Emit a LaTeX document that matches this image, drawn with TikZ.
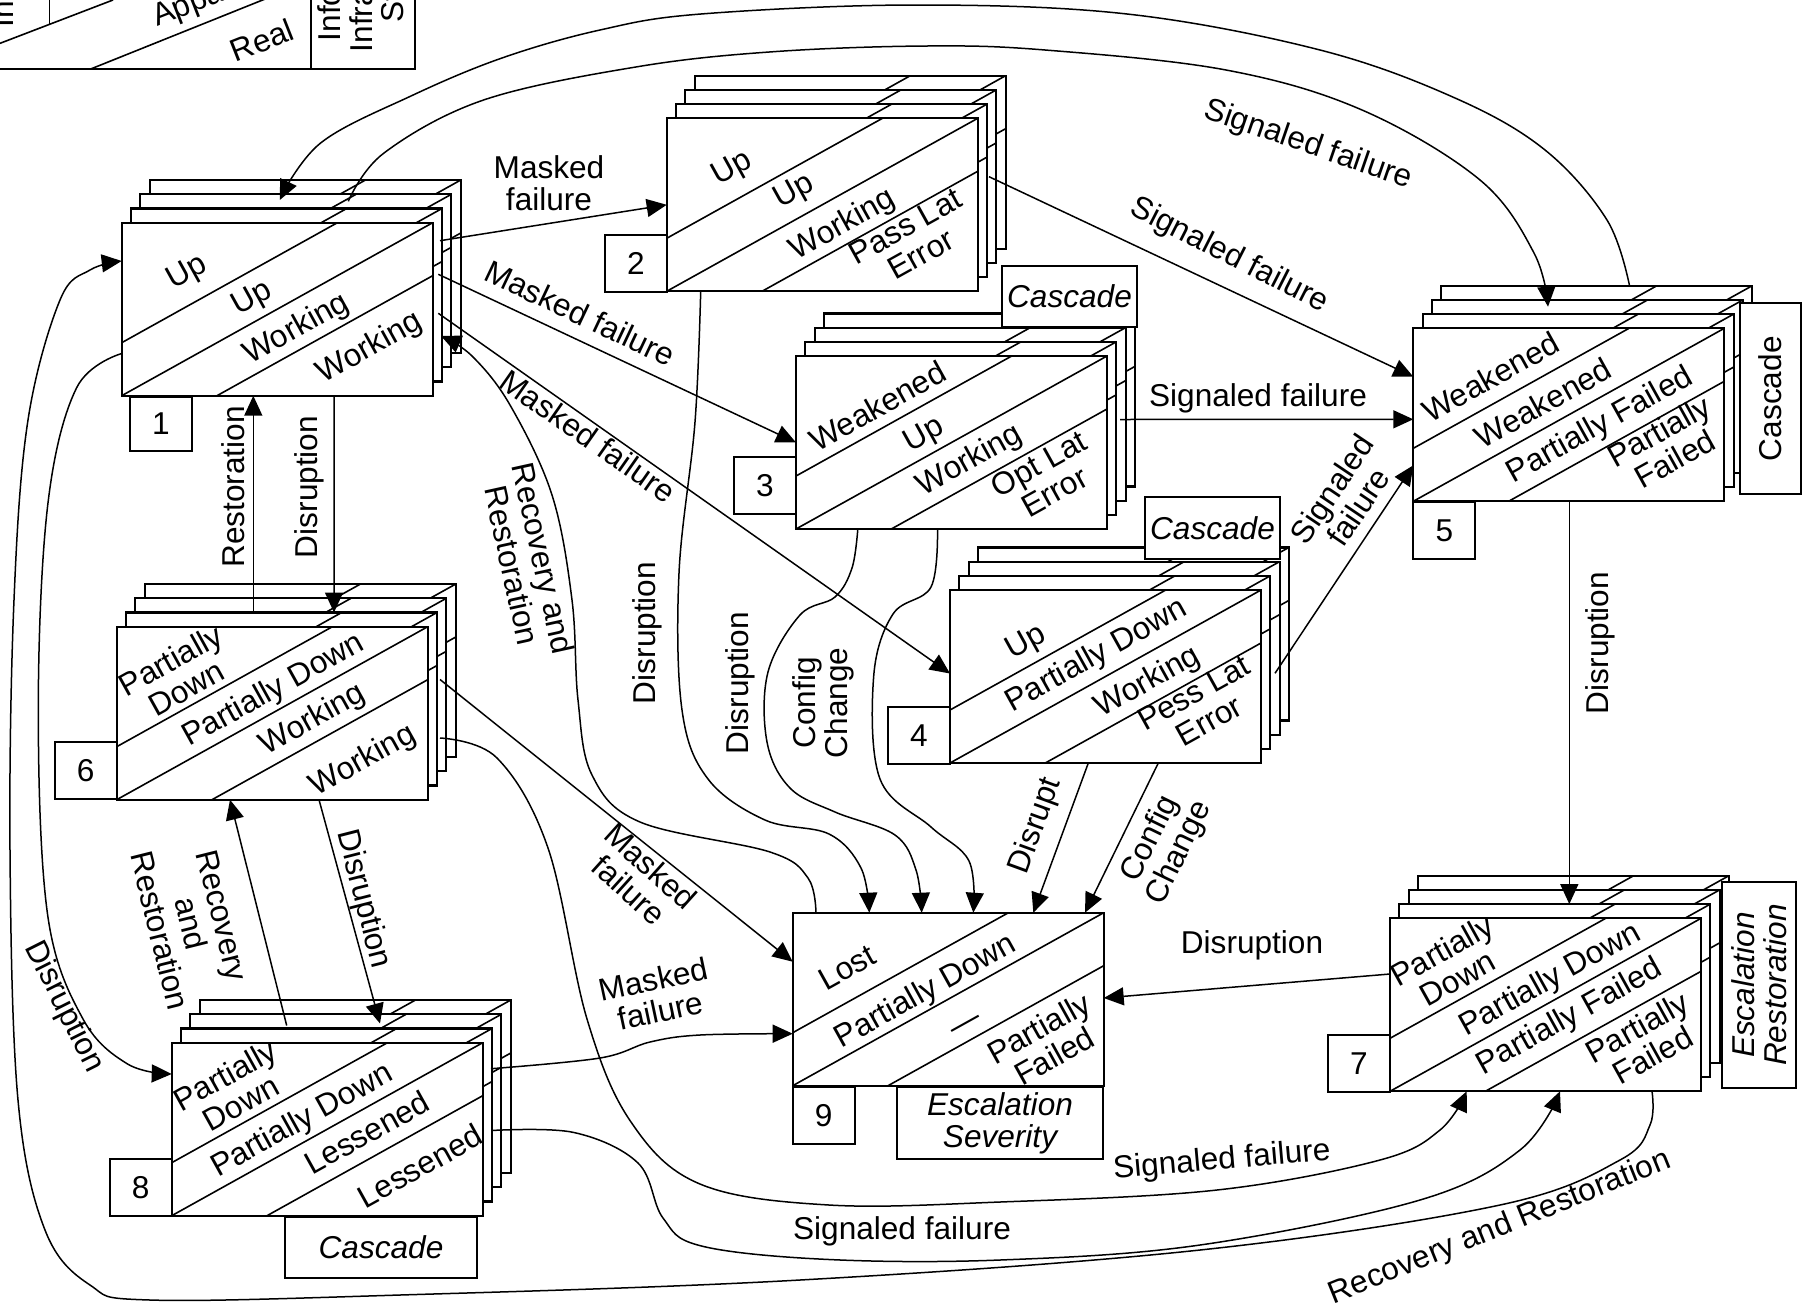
\documentclass[tikz,border=0pt]{standalone}
\usepackage{fontspec}
\setmainfont{Liberation Sans}
\usepackage{graphicx}
\usetikzlibrary{calc,arrows.meta}
\newcommand\lbl{\fontsize{15.8}{16}\selectfont}
\tikzset{
  lay/.style={draw, fill=white, line width=1.1pt, minimum width=155.5pt, minimum height=86.5pt, inner sep=0pt, outer sep=0pt, anchor=north west},
  dg/.style={line width=0.8pt},
  dtxt/.style={align=center, inner sep=0pt, rotate=29.09},
  numbox/.style={draw, fill=white, line width=1.1pt, minimum width=31pt, minimum height=28.5pt, inner sep=0pt, outer sep=0pt, anchor=north west},
  tagbox/.style={draw, fill=white, line width=1.1pt, inner sep=0pt, outer sep=0pt, align=center, font=\lbl\itshape},
  arr/.style={line width=0.75pt, -{Triangle[length=10pt,width=9pt]}},
  ln/.style={line width=0.75pt},
  lab/.style={align=center, inner sep=0pt},
}
\newcommand\diagl[1]{\draw[dg] (#1.south west) -- (#1.north east)
  ($(#1.south west)+(0,-53)$) -- ($(#1.north east)+(-95.3,0)$)
  ($(#1.south west)+(95.3,0)$) -- ($(#1.north east)+(0,53)$);}
\newcommand\stk[3]{%
  \foreach \k in {3,2,1}{\node[lay] (#1L\k) at ({#2+9.3*\k},{#3-14.2*\k}) {}; \diagl{#1L\k}}%
  \node[lay] (#1) at (#2,#3) {}; \diagl{#1}}
\newcommand\dtx[4]{\node[dtxt] at ($(#1.south west)+({(#2)*0.8739-(#3)*0.4862},{-((#2)*0.4862+(#3)*0.8739)})$) {#4};}
\begin{document}
\begin{tikzpicture}[x=0.5pt,y=-0.5pt,font=\lbl]
\useasboundingbox (0,0) rectangle (1818,1306);
% legend (cut off)
\begin{scope}
\clip (0,0) rectangle (1818,1306);
\draw[line width=1.1pt] (-300,-300) rectangle (415,69);
\draw[line width=1.1pt] (310.7,-300) -- (310.7,69);
\draw[dg] (49.3,-300) -- (49.3,25);
\draw[dg] (-50,62.5) -- (113,0);
\draw[dg] (90.7,69) -- (300,-15);
\node[rotate=21.5, anchor=base west, inner sep=0pt] (lgA) at (157,27) {Apparent};
\node[rotate=21.5, inner sep=0pt] (lgR) at (262,40) {Real};
\node[rotate=90, anchor=base west, inner sep=0pt] (lg1) at (340,41.7) {Information};
\node[rotate=90, anchor=base west, inner sep=0pt] (lg2) at (372,52.7) {Infrastructure};
\node[rotate=90, anchor=base west, inner sep=0pt] (lg3) at (403,23.3) {State};
\node[rotate=90, anchor=base west, inner sep=0pt] (lg0) at (13.3,28) {Infrastructure};
\end{scope}
% stacks
\stk{b1}{121.7}{222.7}
\dtx{b1}{117}{75}{Up}\dtx{b1}{161}{21}{Up}\dtx{b1}{185}{-27}{Working}\dtx{b1}{240}{-79}{Working}
\stk{b2}{666.7}{118.3}
\dtx{b2}{117}{75}{Up}\dtx{b2}{160}{24}{Up}\dtx{b2}{186}{-28}{Working}\dtx{b2}{240}{-75}{Pass Lat\\Error}
\stk{b3}{796}{356}
\dtx{b3}{131}{68}{Weakened}\dtx{b3}{158}{19}{Up}\dtx{b3}{185}{-25}{Working}\dtx{b3}{244}{-77}{Opt Lat\\Error}
\stk{b4}{950}{590}
\dtx{b4}{125}{68}{Up}\dtx{b4}{180}{22}{Partially Down}\dtx{b4}{212}{-26}{Working}\dtx{b4}{247}{-73}{Pess Lat\\Error}
\stk{b5}{1413.3}{328.3}
\dtx{b5}{128}{71}{Weakened}\dtx{b5}{161}{23}{Weakened}\dtx{b5}{200}{-25}{Partially Failed}\dtx{b5}{249}{-74}{Partially\\Failed}
\stk{b6}{116.7}{626.7}
\dtx{b6}{115}{80}{Partially\\Down}\dtx{b6}{190}{19}{Partially Down}\dtx{b6}{210}{-26}{Working}\dtx{b6}{234}{-86}{Working}
\stk{b7}{1390}{918.3}
\dtx{b7}{114}{82}{Partially\\Down}\dtx{b7}{194}{19}{Partially Down}\dtx{b7}{193}{-23}{Partially Failed}\dtx{b7}{247}{-80}{Partially\\Failed}
\stk{b8}{171.7}{1042.7}
\dtx{b8}{115}{81}{Partially\\Down}\dtx{b8}{160}{19}{Partially Down}\dtx{b8}{211}{-22}{Lessened}\dtx{b8}{241}{-77}{Lessened}
\node[lay] (b9) at (792.7,912.7) {}; \diagl{b9}
\dtx{b9}{105}{77}{Lost}\dtx{b9}{162}{17}{Partially Down}\dtx{b9}{181}{-33}{---}\dtx{b9}{243}{-85}{Partially\\Failed}
% number boxes
\node[numbox, minimum height=27pt] (n1) at (130,397) {1};
\node[numbox] (n2) at (605,235) {2};
\node[numbox] (n3) at (734,457) {3};
\node[numbox] (n4) at (888,707) {4};
\node[numbox] (n5) at (1413.3,502) {5};
\node[numbox] (n6) at (54.7,742) {6};
\node[numbox] (n7) at (1328,1035) {7};
\node[numbox] (n8) at (109.7,1159) {8};
\node[numbox] (n9) at (792.7,1087) {9};
% tag boxes
\node[tagbox, anchor=north west, minimum width=67.5pt, minimum height=30.5pt] (t3) at (1002,266) {Cascade};
\node[tagbox, anchor=north west, minimum width=67.5pt, minimum height=31pt] (t4) at (1145,497) {Cascade};
\node[tagbox, font=\lbl, rotate=90, minimum width=95.5pt, minimum height=30.5pt] (t5) at (1770.5,398.7) {Cascade};
\node[tagbox, rotate=90, minimum width=103pt, minimum height=37pt] (t7) at (1759,985) {Escalation\\Restoration};
\node[tagbox, anchor=north west, minimum width=96pt, minimum height=30.5pt] (t8) at (285,1217) {Cascade};
\node[tagbox, anchor=north west, minimum width=103pt, minimum height=36pt] (t9) at (897,1087) {Escalation\\Severity};
% straight connectors
\draw[arr] ($(b1.north east)+(7.3,18)$) -- (b2.west);
\draw[arr] ($(b1.north east)+(5.6,51.6)$) -- (b3.west);
\draw[arr] ($(b1.north east)+(5.6,90.6)$) -- ($(b4.west)+(0,-3)$);
\draw[arr] ($(b6L1.north west)+(127.3,0)$) -- ($(b1.south west)+(131.6,0)$);
\draw[arr] ($(b1.south west)+(212.3,0)$) -- ($(b6L1.north west)+(208,0)$);
\draw[arr] ($(b6.south west)+(202.3,0)$) -- ($(b8L1.north west)+(199,-5)$);
\draw[arr] ($(b8L1.north west)+(105.7,-3)$) -- ($(b6.south west)+(113.3,0)$);
\draw[arr] ($(b6.north east)+(12.3,52.8)$) -- ($(b9.north west)+(0,49)$);
\draw[arr] ($(b4.south west)+(138.3,0)$) -- ($(b9.north west)+(240.6,0)$);
\draw[arr] ($(b4.south west)+(208.3,0)$) -- ($(b9.north west)+(292.3,0)$);
\draw[arr] ($(b7.north west)+(0,55.7)$) -- ($(b9.north east)+(0,85.3)$);
\draw[arr] ($(b5.south west)+(156,0)$) -- ($(b7L1.north west)+(170,0)$);
\draw[arr] ($(b2.north east)+(11.3,58.4)$) -- ($(b5.north west)+(0,48.4)$);
\draw[arr] ($(b3.north east)+(13,63.5)$) -- ($(b5.north west)+(0,91)$);
\draw[arr] ($(b4.north east)+(14,83.3)$) -- ($(b5.north west)+(0,137)$);
% curved connectors
\coordinate (c4s) at ($(b9.north west)+(23.3,0)$);
\coordinate (c4e) at ($(b1.north east)+(8.3,113.3)$);
\draw[arr] plot[smooth,tension=0.6] coordinates {(c4s) (808,878) (770,852) (640,822) (592,775) (578,700) (572,600) (552,495) (510,405) (472,356) (c4e)};
\coordinate (c9s) at ($(b1.south west)+(0,-42.2)$);
\coordinate (c9e) at ($(b8.north west)+(0,31.3)$);
\draw[arr] plot[smooth,tension=0.6] coordinates {(c9s) (76.5,388) (47.8,504.5) (38.3,710) (47.8,916) (83,1019) (127.6,1064) (c9e)};
\coordinate (c10s) at ($(b7.south west)+(262,0)$);
\coordinate (c10e) at ($(b1.north west)+(0,38.3)$);
\draw[arr] plot[smooth,tension=0.6] coordinates {(c10s) (1650,1125) (1620,1160) (1500,1205) (1200,1250) (800,1280) (400,1295) (150,1300) (90,1285) (45,1230) (18,1100) (10,850) (14,600) (28,420) (60,300) (90,270) (c10e)};
\coordinate (c11s) at ($(b6.north east)+(12.3,111.3)$);
\coordinate (c11e) at ($(b7.south west)+(76.7,0)$);
\draw[arr] plot[smooth,tension=0.6] coordinates {(c11s) (497,758) (548,848) (587,1019) (631,1122) (700,1184) (829,1205) (1000,1202) (1217,1190) (1380,1160) (1440,1130) (c11e)};
\coordinate (c12s) at ($(b8.north east)+(8.6,87.8)$);
\coordinate (c12e) at ($(b7.south west)+(170,0)$);
\draw[arr] plot[smooth,tension=0.6] coordinates {(c12s) (574,1132.5) (638,1163) (663,1218) (701.5,1246) (829,1259.5) (1000,1260) (1200,1245) (1420,1200) (1520,1150) (c12e)};
\coordinate (c13s) at ($(b8.north east)+(8.3,26)$);
\coordinate (c13e) at ($(b9.north west)+(0,121)$);
\draw[arr] plot[smooth,tension=0.6] coordinates {(c13s) (600,1058) (650,1042) (700,1035) (c13e)};
\coordinate (c15s) at ($(b2.south west)+(34,0)$);
\coordinate (c15e) at ($(b9.north west)+(76.6,0)$);
\draw[arr] plot[smooth,tension=0.6] coordinates {(c15s) (695,422) (679,573) (682,710) (708,779) (765,820) (829,834) (861,868) (c15e)};
\coordinate (c16s) at ($(b3.south west)+(61.8,0)$);
\coordinate (c16e) at ($(b9.north west)+(129,0)$);
\draw[arr] plot[smooth,tension=0.6] coordinates {(c16s) (852,568) (835,597) (800,615) (768,672) (767,742) (790,788) (835,812) (895,835) (916,870) (c16e)};
\coordinate (c17s) at ($(b3.south west)+(141.5,0)$);
\coordinate (c17e) at ($(b9.north west)+(180.6,0)$);
\draw[arr] plot[smooth,tension=0.6] coordinates {(c17s) (931,587) (893,614) (873.7,676) (880,779) (931,827) (969,861) (c17e)};
\coordinate (c25s) at ($(b5L3.north west)+(188.3,0)$);
\coordinate (c25e) at ($(b1L2.north west)+(139.5,5.7)$);
\draw[arr] plot[smooth,tension=0.6] coordinates {(c25s) (1607,220) (1545,150) (1455,98) (1320,50) (1127,14) (915,5) (701,14) (600,30) (502,58) (411,96) (320.6,143) (c25e)};
\coordinate (c26s) at ($(b1L2.north west)+(208,7)$);
\coordinate (c26e) at ($(b5L2.north west)+(116.1,6.8)$);
\draw[arr] plot[smooth,tension=0.6] coordinates {(c26s) (384,153) (483.6,100) (637.6,66.7) (773.5,51.7) (927.5,46) (1045,50) (1226,70) (1362,110) (1480,180) (1534,253) (c26e)};
% labels
\node[lab] (l1) at (549,183) {Masked\\failure};
\node[lab, rotate=-25.3] (l2) at (580,313) {Masked failure};
\node[lab, rotate=-35] (l3) at (588,436) {Masked failure};
\node[lab, rotate=-77.6] (l4) at (528,562) {Recovery and\\Restoration};
\node[lab, rotate=90] (l5) at (233,487) {Restoration};
\node[lab, rotate=90] (l6) at (309,487) {Disruption};
\node[lab, rotate=-75.7] (l7) at (363,899) {Disruption};
\node[lab, rotate=-76] (l8) at (191,923) {Recovery\\and\\Restoration};
\node[lab, rotate=-63.3] (l9) at (64,1007) {Disruption};
\node[lab, rotate=22] (l10) at (1500,1228) {Recovery and Restoration};
\node[lab, rotate=5] (l11) at (1222,1161) {Signaled failure};
\node[lab] (l12) at (902,1231) {Signaled failure};
\node[lab, rotate=12] (l13) at (657,995) {Masked\\failure};
\node[lab, rotate=-42] (l14) at (640,878) {Masked\\failure};
\node[lab, rotate=90] (l15) at (647,633) {Disruption};
\node[lab, rotate=90] (l16) at (740,683) {Disruption};
\node[lab, rotate=90] (l17) at (823,703) {Config\\Change};
\node[lab, rotate=70] (l18) at (1036,826) {Disrupt};
\node[lab, rotate=64] (l19) at (1165,846) {Config\\Change};
\node[lab] (l20) at (1252,945) {Disruption};
\node[lab, rotate=90] (l21) at (1600,643) {Disruption};
\node[lab, rotate=-27] (l22) at (1229,256) {Signaled failure};
\node[lab] (l23) at (1258,398) {Signaled failure};
\node[lab, rotate=56] (l24) at (1345,498) {Signaled\\failure};
\node[lab, rotate=-19] (l25) at (1308,145) {Signaled failure};
\end{tikzpicture}
\end{document}
